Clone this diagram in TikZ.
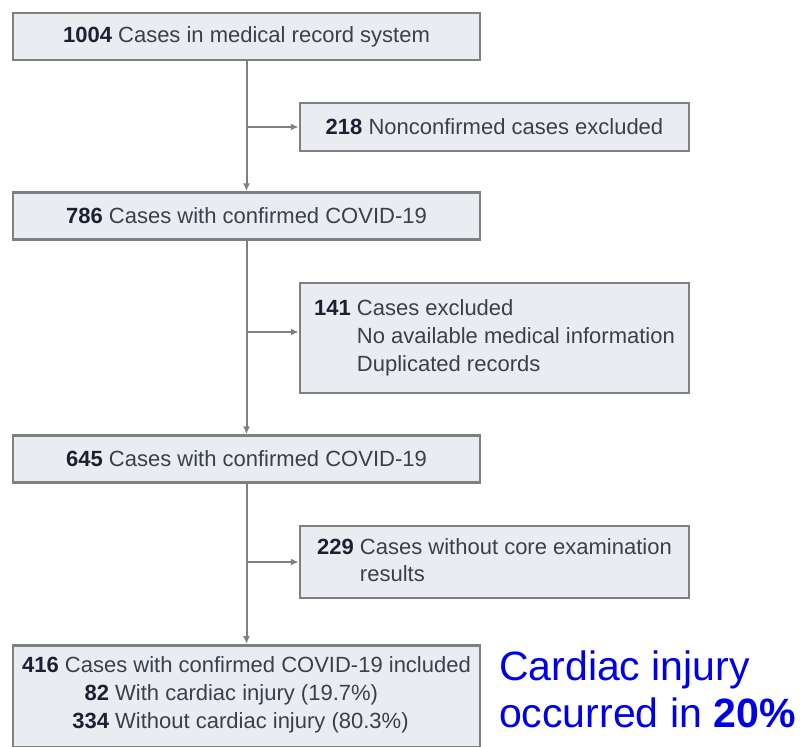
\documentclass[tikz,border=0pt]{standalone}
\usepackage{fontspec}
\setmainfont{Liberation Sans}
\usetikzlibrary{arrows.meta}
\definecolor{boxfill}{HTML}{E9EDF2}
\definecolor{boxline}{HTML}{808080}
\definecolor{boxtext}{HTML}{3A3F4C}
\definecolor{numtext}{HTML}{1C2030}
\definecolor{noteblue}{HTML}{0000E6}
\newcommand{\cnt}[1]{{\color{numtext}\bfseries #1}}

\begin{document}
\begin{tikzpicture}[x=1pt,y=-1pt,
  flowbox/.style={draw=boxline,line width=2.5pt,fill=boxfill,text=boxtext,
    font=\fontsize{22}{28}\selectfont,inner sep=0pt},
  mainbox/.style={flowbox,minimum width=467pt,minimum height=47pt},
  sidebox/.style={flowbox,minimum width=389pt},
  flowline/.style={draw=boxline,line width=2pt},
  flowarrow/.style={flowline,-{Latex[length=8pt,width=7pt]}}]
  %Frame
  \useasboundingbox (0,0) rectangle (804,747);
  %Main flow
  \node[mainbox] (all) at (246.5,36.5) {\cnt{1004}\ Cases in medical record system};
  \node[mainbox] (conf1) at (246.5,216) {\cnt{786}\ Cases with confirmed COVID-19};
  \node[mainbox] (conf2) at (246.5,459) {\cnt{645}\ Cases with confirmed COVID-19};
  \node[mainbox,minimum height=102pt,anchor=north,align=center] (incl) at (246.5,644)
    {\cnt{416}\ Cases with confirmed COVID-19 included\\
     \begin{tabular}[t]{@{}r@{\ }l@{}}
       \cnt{82} & With cardiac injury (19.7\%)\\
       \cnt{334} & Without cardiac injury (80.3\%)
     \end{tabular}\hspace*{12pt}};
  %Box runs on past the lower edge
  \fill[boxfill] ([xshift=1.25pt,yshift=2pt]incl.south west) rectangle ([xshift=-1.25pt,yshift=-12pt]incl.south east);
  \draw[boxline,line width=2.5pt] (incl.south west) -- ++(0,12) (incl.south east) -- ++(0,12);
  %Exclusions
  \node[sidebox,minimum height=48pt] (nonconf) at (494.5,127)
    {\cnt{218}\ Nonconfirmed cases excluded};
  \node[sidebox,minimum height=110pt] (noinfo) at (494.5,338)
    {\begin{tabular}{@{}l@{\ }l@{}}
       \cnt{141} & Cases excluded\\
       & No available medical information\\
       & Duplicated records
     \end{tabular}};
  \node[sidebox,minimum height=72pt] (noexam) at (494.5,562)
    {\begin{tabular}{@{}l@{\ }l@{}}
       \cnt{229} & Cases without core examination\\[-1pt]
       & results
     \end{tabular}};
  %Connectors
  \draw[flowarrow] (all.south) -- (conf1.north);
  \draw[flowarrow] (conf1.south) -- (conf2.north);
  \draw[flowarrow] (conf2.south) -- (incl.north);
  \draw[flowarrow] (all.south |- nonconf.west) -- (nonconf.west);
  \draw[flowarrow] (conf1.south |- 0,332) -- (noinfo.west |- 0,332);
  \draw[flowarrow] (conf2.south |- noexam.west) -- (noexam.west);
  %Note
  \node[anchor=west,align=left,text=noteblue,inner sep=0pt,
    font=\fontsize{41}{47}\selectfont] (note) at (499,689)
    {Cardiac injury\\occurred in \textbf{20\%}};
\end{tikzpicture}
\end{document}
